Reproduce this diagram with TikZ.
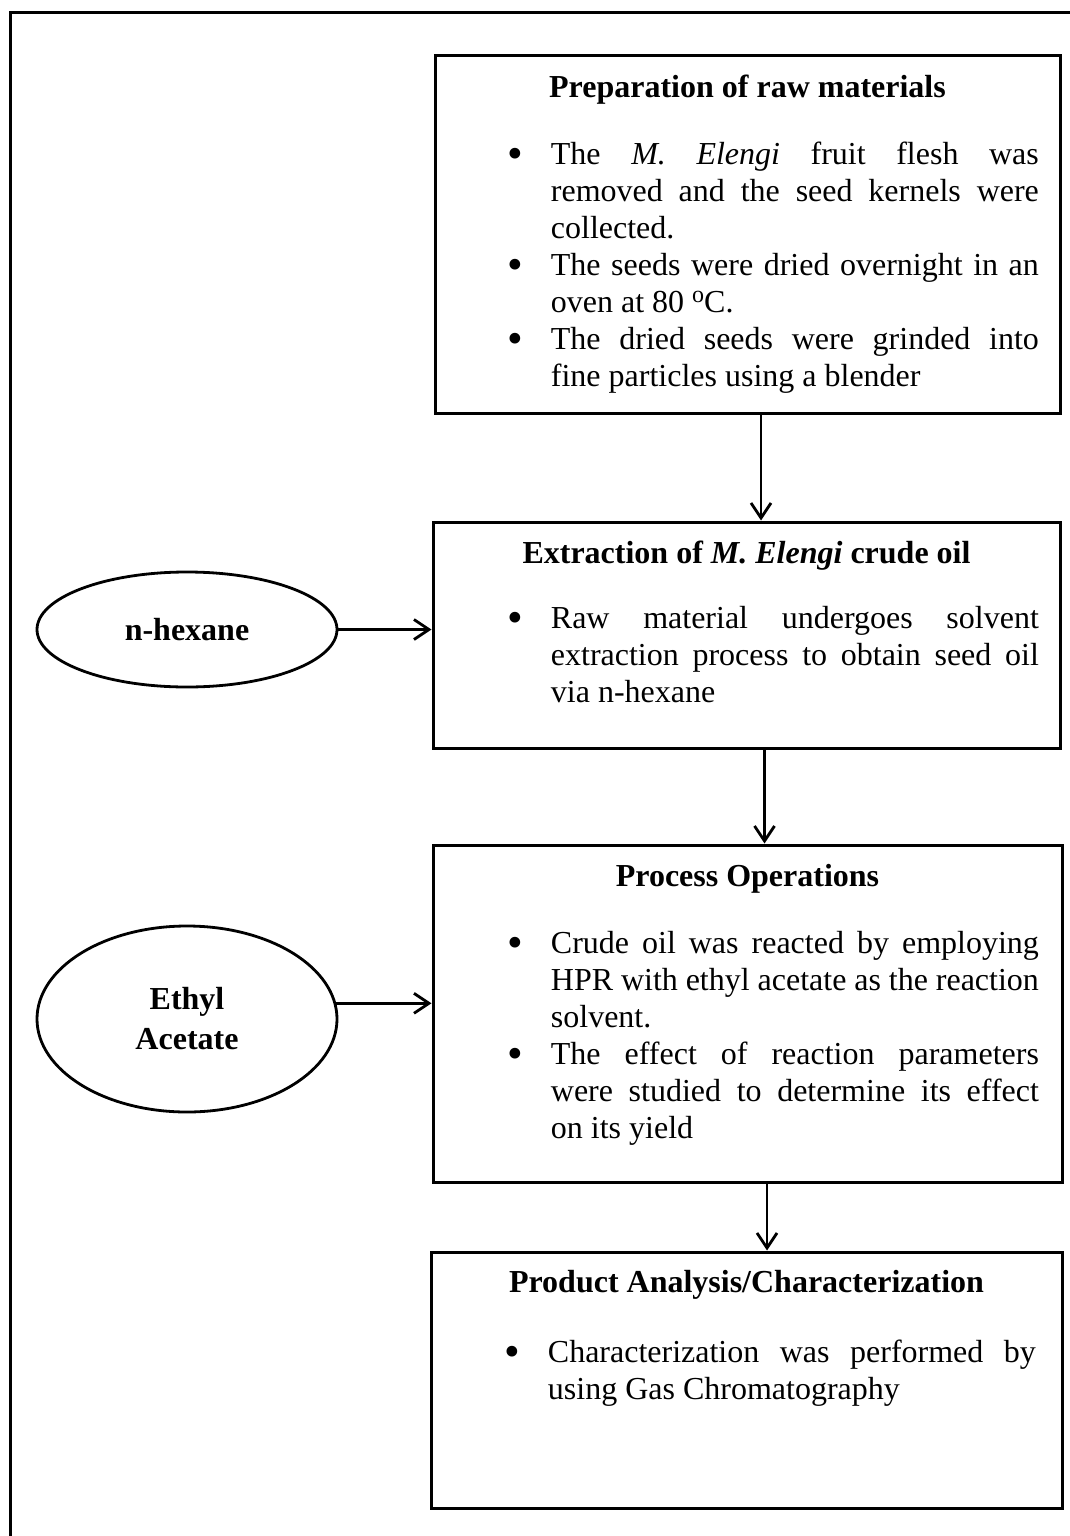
\documentclass[tikz,border=0pt]{standalone}
\usepackage{fontspec}
\setmainfont{Liberation Serif}
\usetikzlibrary{arrows.meta,calc,shapes.geometric}
\newcommand{\bitem}[1]{\noindent\hangindent=23.5pt\hangafter=1\makebox[23.5pt][l]{\hspace{2pt}\raisebox{-0.12em}{\scalebox{1.4}{\textbullet}}}\strut#1\par}
\tikzset{
  box/.style={draw, line width=1.5pt, inner sep=0pt},
  oval/.style={draw, ellipse, line width=1.4pt, inner sep=0pt, minimum width=150pt, align=center, font=\fontsize{16}{20}\selectfont\bfseries},
  titletext/.style={inner sep=0pt, font=\fontsize{16}{18}\selectfont\bfseries},
  bodytext/.style={inner sep=0pt, text width=267.5pt, align=justify, font=\fontsize{16}{18.5}\selectfont},
  arr/.style={line width=1.4pt, -{Straight Barb[length=7.5pt,width=10pt,line width=1.4pt]}},
  frame/.style={line width=1.5pt}
}
\begin{document}
\begin{tikzpicture}[x=0.5pt, y=-0.5pt]
\useasboundingbox (0,0) rectangle (1070,1536);
% outer frame
\coordinate (fbl) at (10,1545);
\coordinate (ftl) at (10,13);
\coordinate (ftr) at (1080,13);
\draw[frame] (fbl) -- (ftl) -- (ftr);

% boxes
\node[box, minimum width=312.5pt, minimum height=178.5pt] (box1) at (747.5,234.5) {};
\node[box, minimum width=313.5pt, minimum height=113pt] (box2) at (746.5,635) {};
\node[box, minimum width=314.5pt, minimum height=168.5pt] (box3) at (747.5,1013.5) {};
\node[box, minimum width=315.5pt, minimum height=128pt] (box4) at (746.5,1380) {};

% titles
\node[titletext, anchor=base] (t1) at ($(box1.north)+(0,43)$) {Preparation of raw materials};
\node[titletext, anchor=base] (t2) at ($(box2.north)+(0,43)$) {Extraction of \textit{M. Elengi} crude oil};
\node[titletext, anchor=base] (t3) at ($(box3.north)+(0,43)$) {Process Operations};
\node[titletext, anchor=base] (t4) at ($(box4.north)+(0,42)$) {Product Analysis/Characterization};

% bodies
\node[bodytext, anchor=north west] (b1) at ($(box1.north west)+(70,84)$) {%
\bitem{The \textit{M. Elengi} fruit flesh was\linebreak removed and the seed kernels were\linebreak collected.}
\bitem{The seeds were dried overnight in an\linebreak oven at 80 {\fontsize{12}{12}\selectfont\raisebox{0.45em}{o}}C.}
\bitem{The dried seeds were grinded into\linebreak fine particles using a blender}};
\node[bodytext, anchor=north west] (b2) at ($(box2.north west)+(72,82)$) {%
\bitem{Raw material undergoes solvent\linebreak extraction process to obtain seed oil\linebreak via n-hexane}};
\node[bodytext, anchor=north west] (b3) at ($(box3.north west)+(72,84)$) {%
\bitem{Crude oil was reacted by employing\linebreak HPR with ethyl acetate as the reaction\linebreak solvent.}
\bitem{The effect of reaction parameters\linebreak were studied to determine its effect\linebreak on its yield}};
\node[bodytext, anchor=north west] (b4) at ($(box4.north west)+(71,86)$) {%
\bitem{Characterization was performed by\linebreak using Gas Chromatography}};

% ellipses
\node[oval, minimum height=57.5pt] (hex) at (187,629.5) {n-hexane};
\node[oval, minimum height=93pt] (eth) at (187,1019) {Ethyl\\Acetate};

% connectors
\draw[arr] ([xshift=6.75pt]box1.south) -- ([xshift=6.75pt]box1.south |- box2.north);
\draw[arr] ([xshift=9pt]box2.south) -- ([xshift=9pt]box2.south |- box3.north);
\draw[arr] ([xshift=9.75pt]box3.south) -- ([xshift=9.75pt]box3.south |- box4.north);
\draw[arr] (hex.east) -- (hex.east -| box2.west);
\draw[arr] (eth.6) -- (eth.6 -| box3.west);
\end{tikzpicture}
\end{document}
